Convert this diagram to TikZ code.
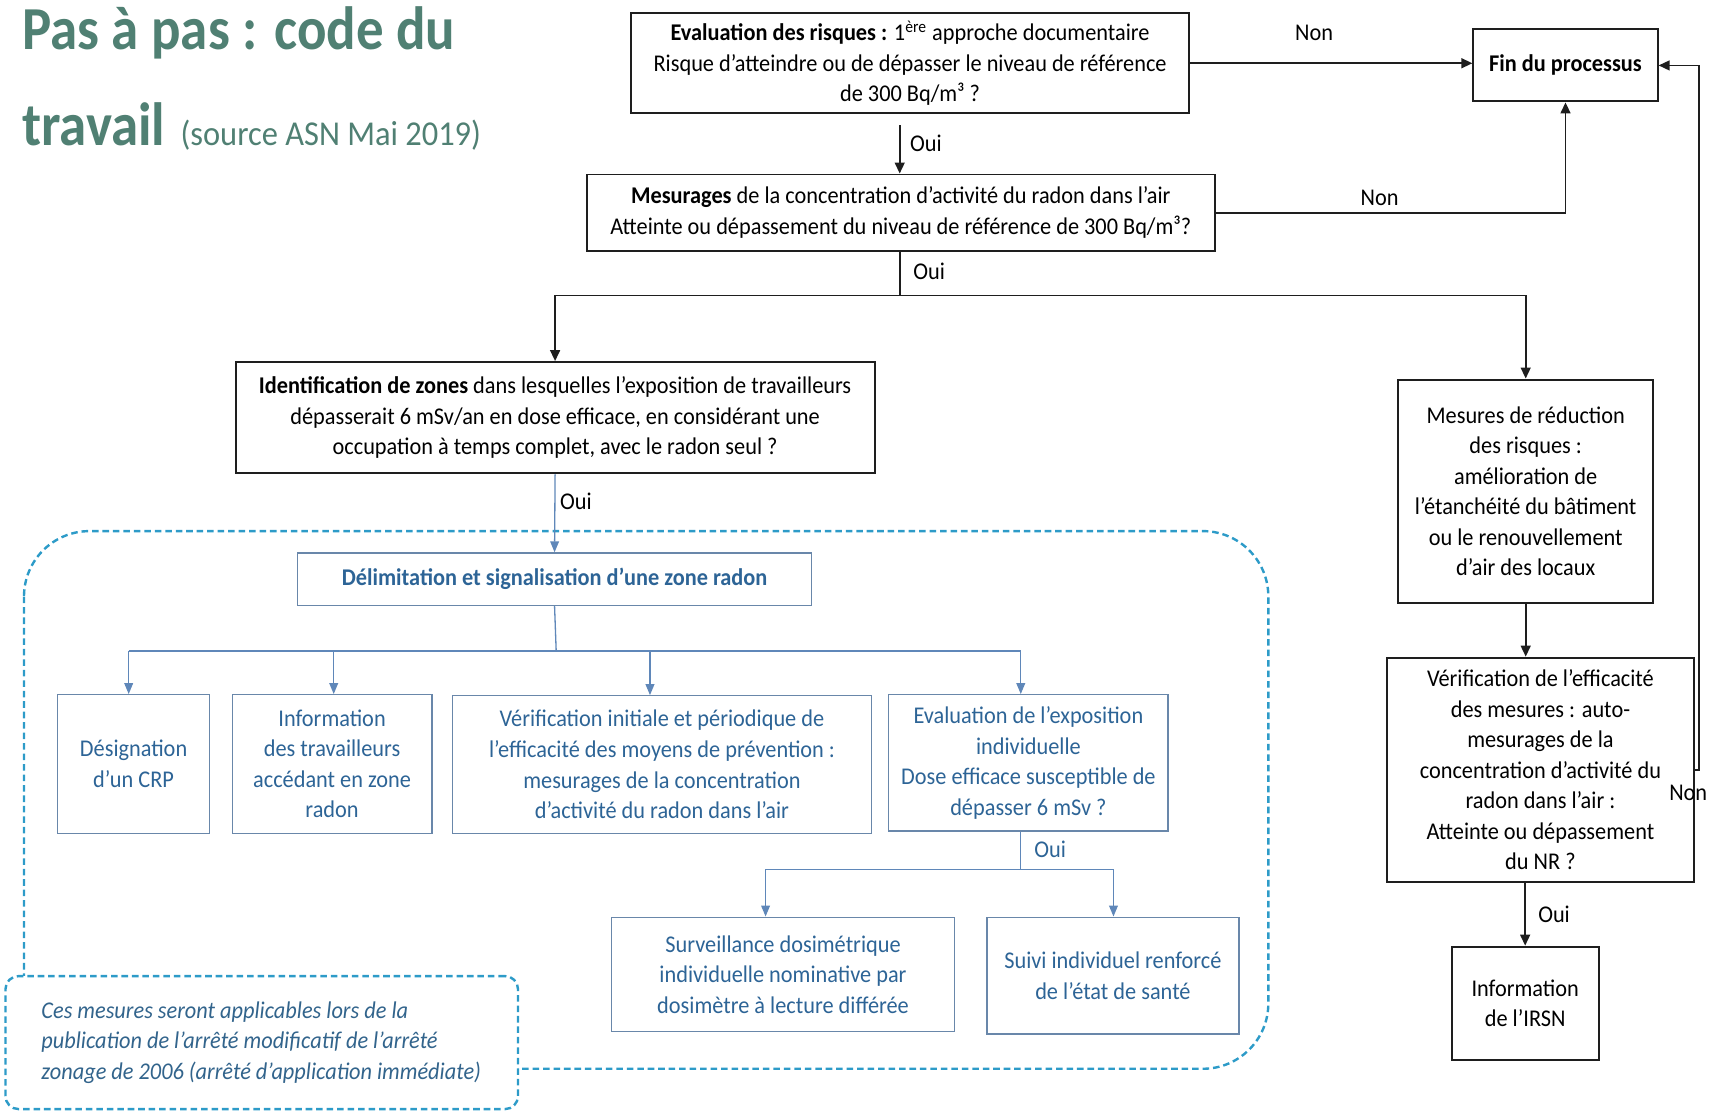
\documentclass[tikz,border=0pt]{standalone}
\usepackage{fontspec}
\setmainfont[FakeStretch=0.93]{Carlito}
\newfontfamily\titlefont[FakeStretch=0.9]{Carlito}
\usetikzlibrary{arrows.meta,calc}
\definecolor{titlegreen}{RGB}{80,128,115}
\definecolor{linegray}{RGB}{30,30,30}
\definecolor{dashblue}{RGB}{45,155,200}
\definecolor{bluetext}{RGB}{45,100,150}
\definecolor{boxblue}{RGB}{105,135,170}
\definecolor{arrowblue}{RGB}{95,135,185}
\definecolor{notetext}{RGB}{50,100,140}
\tikzset{
  txt/.style={font=\fontsize{11}{14}\selectfont},
  box/.style={draw=linegray, line width=0.9pt, align=center, inner sep=0pt, txt},
  bbox/.style={draw=boxblue, line width=0.6pt, text=bluetext, align=center, inner sep=0pt, txt},
  arr/.style={draw=linegray, line width=0.8pt, -{Triangle[length=5pt,width=4.5pt]}},
  plain/.style={draw=linegray, line width=0.8pt},
  barr/.style={draw=arrowblue, line width=0.6pt, -{Triangle[length=5pt,width=4pt]}},
  bline/.style={draw=arrowblue, line width=0.6pt},
  lbl/.style={txt, inner sep=0pt},
  blbl/.style={txt, inner sep=0pt, text=bluetext},
  region/.style={draw=dashblue, line width=1.1pt, dash pattern=on 3pt off 1.8pt},
}
\begin{document}
\begin{tikzpicture}[x=0.5pt,y=-0.5pt]
\useasboundingbox (0,0) rectangle (1568,1018);

% title
\node[anchor=base west, inner sep=0pt, text=titlegreen, font=\titlefont\fontsize{28}{30}\selectfont\bfseries] (t1) at (20,45) {Pas à pas : code du};
\node[anchor=base west, inner sep=0pt, text=titlegreen] (t2) at (20,133) {{\titlefont\fontsize{28}{30}\selectfont\bfseries travail}\hspace{7pt}{\fontsize{16}{18}\selectfont (source ASN Mai 2019)}};

% dashed region and note
\draw[region, rounded corners=30pt] (22,487) rectangle (1163,980);
\node[region, fill=white, rounded corners=6pt, minimum width=235pt, minimum height=61pt, text width=202pt, inner xsep=16.5pt, inner ysep=0pt, align=flush left, text=notetext, font=\fontsize{11}{14}\selectfont\itshape] (note) at (240,956)
  {Ces mesures seront applicables lors de la\\publication de l’arrêté modificatif de l’arrêté\\zonage de 2006 (arrêté d’application immédiate)};

% black boxes
\node[box, minimum width=255.5pt, minimum height=46pt] (b1) at (834.5,58)
  {\textbf{Evaluation des risques :} 1\textsuperscript{ère} approche documentaire\\Risque d’atteindre ou de dépasser le niveau de référence\\de 300 Bq/m³ ?};
\node[box, minimum width=84.5pt, minimum height=33pt] (fin) at (1435.5,60) {\textbf{Fin du processus}};
\node[box, minimum width=288pt, minimum height=35pt] (b2) at (826,195)
  {\textbf{Mesurages} de la concentration d’activité du radon dans l’air\\Atteinte ou dépassement du niveau de référence de 300 Bq/m³?};
\node[box, minimum width=293pt, minimum height=51pt] (b3) at (509,383)
  {\textbf{Identification de zones} dans lesquelles l’exposition de travailleurs\\dépasserait 6 mSv/an en dose efficace, en considérant une\\occupation à temps complet, avec le radon seul ?};
\node[box, minimum width=117pt, minimum height=102.5pt] (red) at (1399,450.5)
  {Mesures de réduction\\des risques :\\amélioration de\\l’étanchéité du bâtiment\\ou le renouvellement\\d’air des locaux};
\node[box, minimum width=140.5pt, minimum height=103pt] (vr) at (1412.5,706)
  {Vérification de l’efficacité\\des mesures : auto-\\mesurages de la\\concentration d’activité du\\radon dans l’air :\\Atteinte ou dépassement\\du NR ?};
\node[box, minimum width=67.5pt, minimum height=52pt] (irsn) at (1398.5,920)
  {Information\\de l’IRSN};

% blue boxes
\node[bbox, minimum width=235.5pt, minimum height=24pt] (del) at (508.5,531)
  {\textbf{Délimitation et signalisation d’une zone radon}};
\node[bbox, minimum width=69.5pt, minimum height=63.5pt] (des) at (122.5,700.5)
  {Désignation\\d’un CRP};
\node[bbox, minimum width=91.5pt, minimum height=63.5pt] (inf) at (304.5,700.5)
  {Information\\des travailleurs\\accédant en zone\\radon};
\node[bbox, minimum width=192pt, minimum height=63pt] (vi) at (607,701)
  {Vérification initiale et périodique de\\l’efficacité des moyens de prévention :\\mesurages de la concentration\\d’activité du radon dans l’air};
\node[bbox, minimum width=128pt, minimum height=62.5pt] (ev) at (943,699.5)
  {Evaluation de l’exposition\\individuelle\\Dose efficace susceptible de\\dépasser 6 mSv ?};
\node[bbox, minimum width=157pt, minimum height=52.5pt] (sur) at (718,893.5)
  {Surveillance dosimétrique\\individuelle nominative par\\dosimètre à lecture différée};
\node[bbox, minimum width=115.5pt, minimum height=53.5pt] (sui) at (1020.5,894.5)
  {Suivi individuel renforcé\\de l’état de santé};

% black connectors
\draw[arr] (b1.east) -- (b1.east -| fin.west);
\coordinate (a1) at (825,115);
\draw[arr] (a1) -- (a1 |- b2.north);
\draw[arr] (b2.east) -| (fin.south);
\coordinate (s1) at (825,271);
\draw[plain] (s1 |- b2.south) -- (s1);
\draw[arr] (s1) -| (b3.north);
\draw[arr] (s1) -| (red.north);
\draw[arr] (red.south) -- (red.south |- vr.north);
\coordinate (loop) at (1558,706);
\draw[arr] (vr.east) -- (loop) |- (fin.east);
\draw[arr] (irsn.north |- vr.south) -- (irsn.north);

% blue connectors
\draw[barr] (b3.south) -- (del.north);
\coordinate (bc) at (510,597);
\coordinate (bL) at (118,597);
\coordinate (bI) at (306,597);
\coordinate (bV) at (596,597);
\coordinate (bR) at (936,597);
\draw[bline] (del.south) -- (bc);
\draw[bline] (bL) -- (bR);
\draw[barr] (bL) -- (bL |- des.north);
\draw[barr] (bI) -- (bI |- inf.north);
\draw[barr] (bV) -- (bV |- vi.north);
\draw[barr] (bR) -- (bR |- ev.north);
\coordinate (e1) at (936,797);
\coordinate (eL) at (702,797);
\coordinate (eR) at (1021,797);
\draw[bline] (e1 |- ev.south) -- (e1);
\draw[bline] (eL) -- (eR);
\draw[barr] (eL) -- (eL |- sur.north);
\draw[barr] (eR) -- (eR |- sui.north);

% labels
\node[lbl] (n1) at (1205,30) {Non};
\node[lbl] (o1) at (849,131) {Oui};
\node[lbl] (n2) at (1265,181) {Non};
\node[lbl] (o2) at (852,249) {Oui};
\node[lbl] (o3) at (528,460) {Oui};
\node[blbl] (o4) at (963,779) {Oui};
\node[lbl] (n3) at (1548,727) {Non};
\node[lbl] (o5) at (1425,838) {Oui};
\end{tikzpicture}
\end{document}
